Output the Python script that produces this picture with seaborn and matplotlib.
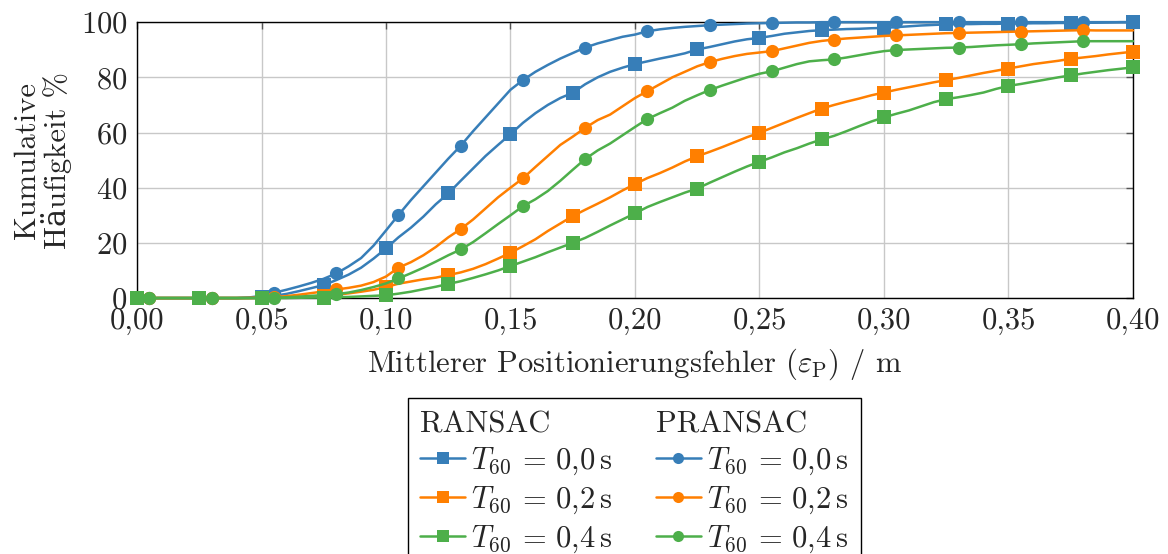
import numpy as np
import pandas as pd
import matplotlib
matplotlib.use("Agg")
import matplotlib.pyplot as plt
from matplotlib.lines import Line2D
import seaborn as sns

# Error grid: 0.000 ... 0.400 m in 5 mm steps
err = np.round(np.arange(0, 81) * 0.005, 3)

# Cumulative frequency (%) per method and reverberation time
ransac_00 = [0, 0, 0, 0, 0, 0, 0, 0, 0, 0.1,
             0.3, 0.8, 1.5, 2.5, 3.6, 4.7, 6.5, 8.5, 11.0, 14.3,
             18.0, 22.0, 25.5, 29.5, 34.0, 37.9, 42.5, 47.0, 51.5, 55.5,
             59.4, 63.5, 67.0, 70.0, 72.5, 74.4, 77.5, 80.0, 82.0, 83.5,
             84.8, 85.8, 86.8, 87.7, 88.7, 90.1, 91.0, 92.0, 93.0, 93.8,
             94.3, 95.0, 95.8, 96.3, 96.8, 97.1, 97.3, 97.5, 97.6, 97.8,
             97.9, 98.2, 98.5, 98.8, 99.0, 99.2, 99.3, 99.3, 99.4, 99.4,
             99.5, 99.5, 99.6, 99.6, 99.7, 99.7, 99.8, 99.8, 99.9, 100, 100]
pransac_00 = [0, 0, 0, 0, 0, 0, 0, 0, 0, 0.2,
              0.8, 1.9, 3.0, 4.2, 5.5, 7.0, 8.9, 11.5, 14.5, 19.0,
              24.5, 30.1, 35.5, 40.5, 45.5, 50.5, 55.2, 60.5, 65.5, 70.5,
              75.5, 79.0, 82.0, 84.5, 86.8, 88.8, 90.8, 92.3, 93.5, 94.7,
              95.5, 96.7, 97.4, 97.9, 98.3, 98.6, 98.9, 99.1, 99.3, 99.5,
              99.6, 99.7, 99.8, 99.9, 99.9, 100, 100, 100, 100, 100,
              100, 100, 100, 100, 100, 100, 100, 100, 100, 100,
              100, 100, 100, 100, 100, 100, 100, 100, 100, 100, 100]
ransac_02 = [0, 0, 0, 0, 0, 0, 0, 0, 0, 0,
             0.1, 0.2, 0.3, 0.4, 0.6, 0.8, 1.2, 1.7, 2.3, 3.0,
             4.0, 5.2, 6.0, 6.8, 7.4, 8.3, 9.3, 10.6, 12.3, 14.3,
             16.4, 18.8, 21.3, 24.3, 27.0, 29.7, 32.0, 34.2, 36.5, 39.0,
             41.3, 43.5, 45.3, 47.3, 49.5, 51.4, 53.0, 54.7, 56.5, 58.3,
             59.9, 61.7, 63.5, 65.3, 67.0, 68.7, 70.0, 71.2, 72.3, 73.5,
             74.5, 75.5, 76.4, 77.3, 78.2, 79.0, 79.8, 80.7, 81.6, 82.4,
             83.2, 84.0, 84.8, 85.4, 86.0, 86.7, 87.2, 87.7, 88.3, 88.8, 89.3]
pransac_02 = [0, 0, 0, 0, 0, 0, 0, 0, 0, 0.05,
              0.15, 0.3, 0.7, 1.2, 1.8, 2.4, 3.1, 3.7, 4.5, 5.8,
              7.8, 11.0, 13.0, 15.5, 18.5, 22.0, 25.0, 28.5, 32.5, 36.5,
              40.0, 43.4, 47.5, 51.5, 55.5, 58.5, 61.7, 64.5, 66.5, 69.5,
              72.5, 75.0, 77.5, 80.0, 82.0, 84.0, 85.5, 86.7, 87.7, 88.5,
              89.0, 89.5, 90.5, 91.5, 92.5, 93.2, 93.7, 94.1, 94.4, 94.7,
              95.0, 95.2, 95.4, 95.6, 95.8, 96.0, 96.1, 96.2, 96.3, 96.4,
              96.5, 96.6, 96.7, 96.8, 96.9, 97.0, 97.1, 97.0, 97.0, 97.0, 97.0]
ransac_04 = [0, 0, 0, 0, 0, 0, 0, 0, 0, 0,
             0, 0, 0, 0.1, 0.15, 0.2, 0.3, 0.4, 0.6, 0.8,
             1.0, 1.6, 2.3, 3.2, 4.1, 5.1, 6.1, 7.3, 8.6, 10.0,
             11.6, 13.2, 14.8, 16.6, 18.3, 20.0, 21.8, 24.0, 26.3, 28.5,
             30.7, 33.0, 34.8, 36.5, 38.2, 39.7, 41.8, 43.8, 45.8, 47.7,
             49.4, 51.0, 52.8, 54.3, 56.0, 57.5, 58.8, 60.5, 62.3, 64.0,
             65.5, 66.8, 68.0, 69.5, 71.0, 72.1, 72.8, 73.6, 74.5, 75.8,
             76.9, 77.6, 78.4, 79.2, 80.0, 80.7, 81.4, 82.0, 82.6, 83.1, 83.6]
pransac_04 = [0, 0, 0, 0, 0, 0, 0, 0, 0, 0,
              0, 0.1, 0.3, 0.5, 0.8, 1.1, 1.4, 2.0, 2.9, 4.0,
              5.3, 7.1, 9.0, 11.0, 13.2, 15.5, 17.6, 20.3, 23.5, 26.8,
              30.0, 33.3, 35.8, 38.8, 42.5, 46.5, 50.4, 53.5, 56.0, 59.0,
              62.0, 64.9, 67.0, 69.0, 71.5, 73.5, 75.4, 77.0, 78.5, 80.0,
              81.3, 82.2, 83.5, 84.8, 85.8, 86.2, 86.5, 87.2, 88.0, 88.8,
              89.5, 89.9, 90.1, 90.3, 90.5, 90.7, 90.8, 91.0, 91.3, 91.6,
              91.8, 92.0, 92.3, 92.5, 92.7, 92.9, 93.1, 93.1, 93.1, 93.1, 93.1]

methods = ["RANSAC", "PRANSAC"]
t60_labels = [r"$T_{60}\,{=}\,0{,}0\,\mathrm{s}$",
              r"$T_{60}\,{=}\,0{,}2\,\mathrm{s}$",
              r"$T_{60}\,{=}\,0{,}4\,\mathrm{s}$"]
xtick_vals = [0.00, 0.05, 0.10, 0.15, 0.20, 0.25, 0.30, 0.35, 0.40]
xtick_labels = ["0,00", "0,05", "0,10", "0,15", "0,20", "0,25", "0,30", "0,35", "0,40"]
ytick_vals = [0, 20, 40, 60, 80, 100]

colors = ["#377eb8", "#ff7f00", "#4daf4a"]

sns.set_style("white")
plt.rcParams["font.family"] = ["cmr10", "DejaVu Serif"]
plt.rcParams["mathtext.fontset"] = "cm"
plt.rcParams["axes.formatter.use_mathtext"] = True
plt.rcParams["font.size"] = 22

fig = plt.figure(figsize=(11.68, 5.54), dpi=100)
ax = fig.add_axes([0.1173, 0.462, 0.8527, 0.498])

series = {
    ("RANSAC", 0): ransac_00, ("PRANSAC", 0): pransac_00,
    ("RANSAC", 1): ransac_02, ("PRANSAC", 1): pransac_02,
    ("RANSAC", 2): ransac_04, ("PRANSAC", 2): pransac_04,
}
handles = {}
for k in range(3):
    for m in methods:
        df = pd.DataFrame({"err": err, "freq": series[(m, k)]})
        is_r = m == "RANSAC"
        sns.lineplot(data=df, x="err", y="freq", ax=ax, color=colors[k],
                     linewidth=1.8, marker="s" if is_r else "o",
                     markersize=9.5,
                     markeredgewidth=0, markevery=(0, 5) if is_r else (1, 5),
                     clip_on=False, zorder=3)
        handles[(m, k)] = Line2D([], [], color=colors[k], linewidth=1.8,
                                 marker="s" if is_r else "o", markersize=8,
                                 markeredgewidth=0)

ax.set_xlim(0, 0.40)
ax.set_ylim(0, 100)
ax.set_xticks(xtick_vals)
ax.set_xticklabels(xtick_labels)
ax.set_yticks(ytick_vals)
ax.grid(True, color="#c8c8c8", linewidth=1.0)
ax.tick_params(direction="in", length=5, width=1, color="#555555",
               top=True, right=True, pad=7, labelsize=22)
for s in ax.spines.values():
    s.set_color("black")
    s.set_linewidth(1.0)
ax.set_xlabel(r"Mittlerer Positionierungsfehler ($\varepsilon_{\mathrm{P}}$) / m",
              fontsize=22, labelpad=8)
ax.set_ylabel("Kumulative\nHäufigkeit %", fontsize=22, linespacing=1.0, labelpad=6)

blank = Line2D([], [], linestyle="none", marker=None)
leg_handles = [blank] + [handles[("RANSAC", k)] for k in range(3)] + \
              [blank] + [handles[("PRANSAC", k)] for k in range(3)]
leg_labels = [methods[0]] + t60_labels + [methods[1]] + t60_labels
leg = fig.legend(leg_handles, leg_labels, ncol=2, loc="upper left",
                 bbox_to_anchor=(0.349, 0.2816), borderaxespad=0,
                 fancybox=False, edgecolor="black", framealpha=1,
                 fontsize=22, handlelength=1.45, handletextpad=0.2,
                 labelspacing=0.24, columnspacing=1.45, borderpad=0.42)
leg.get_frame().set_linewidth(1.0)
# header rows: drop the empty handle slot so the text starts at the column edge
for col in leg._legend_handle_box.get_children():
    hdr = col.get_children()[0]
    da = hdr.get_children()[0]
    da.width = 0
    hdr.sep = 0

fig.savefig("out.png", dpi=100)
